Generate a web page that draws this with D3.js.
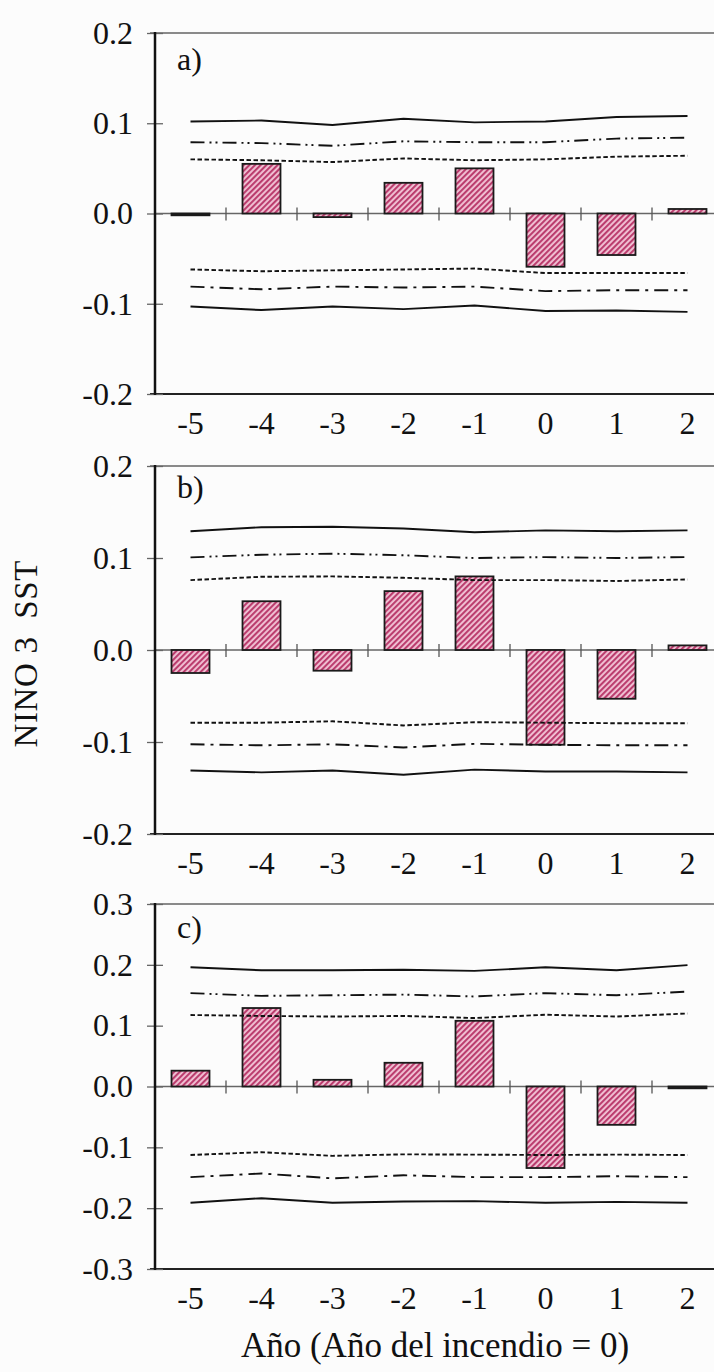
<!DOCTYPE html>
<html>
<head>
<meta charset="utf-8">
<script src="https://cdn.jsdelivr.net/npm/d3@7"></script>
<style>
  html, body { margin: 0; padding: 0; background: #fcfcfc; }
  svg { display: block; }
  svg text { font-family: "Liberation Serif", "Times New Roman", serif; fill: #111; }
</style>
</head>
<body>
<svg id="chart" width="714" height="1372"></svg>
<script>
// Years relative to the fire year (0)
const years = [-5, -4, -3, -2, -1, 0, 1, 2];
const xTickLabels = ["-5", "-4", "-3", "-2", "-1", "0", "1", "2"];
const yTicksAB = [-0.2, -0.1, 0.0, 0.1, 0.2];
const yTicksC = [-0.3, -0.2, -0.1, 0.0, 0.1, 0.2, 0.3];

// a) composite NINO 3 SST anomalies and confidence bounds
const aBars = [-0.002, 0.055, -0.004, 0.034, 0.050, -0.059, -0.046, 0.005];
const aHi99 = [0.102, 0.103, 0.098, 0.105, 0.101, 0.102, 0.107, 0.108];
const aHi95 = [0.079, 0.078, 0.075, 0.080, 0.079, 0.079, 0.083, 0.084];
const aHi90 = [0.060, 0.059, 0.057, 0.061, 0.059, 0.060, 0.063, 0.064];
const aLo90 = [-0.062, -0.064, -0.063, -0.062, -0.061, -0.066, -0.066, -0.066];
const aLo95 = [-0.081, -0.084, -0.081, -0.082, -0.081, -0.086, -0.085, -0.085];
const aLo99 = [-0.103, -0.107, -0.103, -0.106, -0.102, -0.108, -0.1075, -0.109];

// b)
const bBars = [-0.025, 0.053, -0.0225, 0.064, 0.080, -0.103, -0.053, 0.005];
const bHi99 = [0.129, 0.1335, 0.134, 0.132, 0.128, 0.130, 0.129, 0.130];
const bHi95 = [0.1007, 0.1036, 0.1047, 0.103, 0.100, 0.101, 0.100, 0.101];
const bHi90 = [0.076, 0.0796, 0.080, 0.0785, 0.076, 0.076, 0.075, 0.0767];
const bLo90 = [-0.079, -0.079, -0.0775, -0.082, -0.0785, -0.079, -0.0796, -0.0796];
const bLo95 = [-0.1025, -0.1036, -0.1025, -0.106, -0.102, -0.103, -0.1036, -0.1036];
const bLo99 = [-0.131, -0.133, -0.131, -0.1356, -0.130, -0.132, -0.132, -0.133];

// c)
const cBars = [0.026, 0.129, 0.011, 0.039, 0.108, -0.134, -0.063, -0.003];
const cHi99 = [0.196, 0.191, 0.191, 0.192, 0.190, 0.196, 0.191, 0.1995];
const cHi95 = [0.1535, 0.149, 0.150, 0.151, 0.148, 0.1535, 0.150, 0.156];
const cHi90 = [0.1175, 0.116, 0.115, 0.116, 0.1125, 0.118, 0.115, 0.120];
const cLo90 = [-0.1126, -0.108, -0.114, -0.1115, -0.112, -0.1126, -0.112, -0.1126];
const cLo95 = [-0.149, -0.143, -0.151, -0.146, -0.149, -0.149, -0.1475, -0.149];
const cLo99 = [-0.191, -0.1836, -0.191, -0.189, -0.1885, -0.191, -0.1896, -0.191];

const svg = d3.select("#chart");
const SERIF = "'Liberation Serif', 'Times New Roman', serif";

// Hatched fill for the bars
const defs = svg.append("defs");
const pat = defs.append("pattern")
  .attr("id", "hatch")
  .attr("patternUnits", "userSpaceOnUse")
  .attr("width", 4).attr("height", 4)
  .attr("patternTransform", "rotate(45)");
pat.append("rect").attr("width", 4).attr("height", 4).attr("fill", "#f2c4d6");
pat.append("rect").attr("width", 2.1).attr("height", 4).attr("fill", "#bb3d6e");

const axisX = 155;
const step0 = 71;
const frameRight = 740;
const x = d3.scaleBand().domain(years).range([axisX, axisX + years.length * step0])
  .paddingInner(0.465).paddingOuter(0.2325);
const step = x.step();
const fmt = v => (v < 0 ? "-" : "") + Math.abs(v).toFixed(1);

const panels = [
  { label: "a)", top: 33, bottom: 394, domain: [-0.2, 0.2], ticks: yTicksAB, labelDy: 37,
    bars: aBars, lines: [aHi99, aHi95, aHi90, aLo90, aLo95, aLo99] },
  { label: "b)", top: 466, bottom: 834, domain: [-0.2, 0.2], ticks: yTicksAB, labelDy: 32,
    bars: bBars, lines: [bHi99, bHi95, bHi90, bLo90, bLo95, bLo99] },
  { label: "c)", top: 904, bottom: 1269, domain: [-0.3, 0.3], ticks: yTicksC, labelDy: 34,
    bars: cBars, lines: [cHi99, cHi95, cHi90, cLo90, cLo95, cLo99] }
];

// line styles: outer solid, dash-dot-dot (upper) / dash-dot (lower), dashed inner
const lineDash = [null, "14,5,2,4,2,5", "4.5,2.5", "4.5,2.5", "14,6,3,6", null];

panels.forEach(p => {
  const y = d3.scaleLinear().domain(p.domain).range([p.bottom, p.top]);
  const g = svg.append("g");

  // frame: grey top edge, black bottom edge
  g.append("line").attr("x1", axisX - 5).attr("x2", frameRight)
    .attr("y1", y(p.domain[1])).attr("y2", y(p.domain[1]))
    .attr("stroke", "#8a8a8a").attr("stroke-width", 2);
  g.append("line").attr("x1", axisX - 5).attr("x2", frameRight)
    .attr("y1", y(p.domain[0])).attr("y2", y(p.domain[0]))
    .attr("stroke", "#222").attr("stroke-width", 2);

  // zero line with category separators
  g.append("line").attr("x1", axisX).attr("x2", frameRight)
    .attr("y1", y(0)).attr("y2", y(0))
    .attr("stroke", "#666").attr("stroke-width", 1.5);
  g.selectAll(".sep").data(years.slice(1)).join("line")
    .attr("x1", d => x(d) - step * x.paddingInner() / 2)
    .attr("x2", d => x(d) - step * x.paddingInner() / 2)
    .attr("y1", y(0) - 6).attr("y2", y(0) + 7)
    .attr("stroke", "#555").attr("stroke-width", 1.3);

  // y axis
  const yAxis = d3.axisLeft(y).tickValues(p.ticks).tickFormat(fmt).tickSize(8).tickPadding(14);
  const ya = g.append("g").attr("transform", `translate(${axisX},0)`).call(yAxis);
  ya.attr("font-family", null).attr("font-size", null);
  ya.select(".domain").remove();
  ya.selectAll(".tick line").attr("stroke", "#666").attr("stroke-width", 1.3).attr("x2", -8).attr("x1", 8);
  ya.selectAll(".tick text")
    .style("font-family", SERIF).style("font-size", "32px").attr("fill", "#111");
  g.append("line").attr("x1", axisX).attr("x2", axisX)
    .attr("y1", p.top - 1).attr("y2", p.bottom + 1)
    .attr("stroke", "#111").attr("stroke-width", 2.5);

  // x tick labels
  g.selectAll(".xl").data(years).join("text")
    .attr("x", d => x(d) + x.bandwidth() / 2)
    .attr("y", p.bottom + 40)
    .attr("text-anchor", "middle")
    .style("font-family", SERIF).style("font-size", "32px")
    .text((d, i) => xTickLabels[i]);

  // bars
  g.selectAll(".bar").data(p.bars).join("rect")
    .attr("x", (d, i) => x(years[i]))
    .attr("width", x.bandwidth())
    .attr("y", d => y(Math.max(0, d)))
    .attr("height", d => Math.abs(y(d) - y(0)))
    .attr("fill", "url(#hatch)")
    .attr("stroke", "#1a1a1a").attr("stroke-width", 1.8);

  // confidence bounds
  const line = d3.line().x((d, i) => x(years[i]) + x.bandwidth() / 2).y(d => y(d));
  p.lines.forEach((vals, k) => {
    g.append("path").datum(vals)
      .attr("d", line)
      .attr("fill", "none")
      .attr("stroke", "#111")
      .attr("stroke-width", 1.9)
      .attr("stroke-dasharray", lineDash[k]);
  });

  // panel label
  g.append("text").attr("x", 177).attr("y", p.top + p.labelDy)
    .style("font-family", SERIF).style("font-size", "32px").text(p.label);
});

// axis titles
svg.append("text")
  .attr("transform", "translate(37,654) rotate(-90)")
  .attr("text-anchor", "middle")
  .style("font-family", SERIF).style("font-size", "33px")
  .attr("textLength", 187).attr("lengthAdjust", "spacing")
  .style("white-space", "pre")
  .text("NINO 3  SST");

svg.append("text")
  .attr("x", 435).attr("y", 1357)
  .attr("text-anchor", "middle")
  .style("font-family", SERIF).style("font-size", "35px")
  .text("Año (Año del incendio = 0)");
</script>
</body>
</html>
